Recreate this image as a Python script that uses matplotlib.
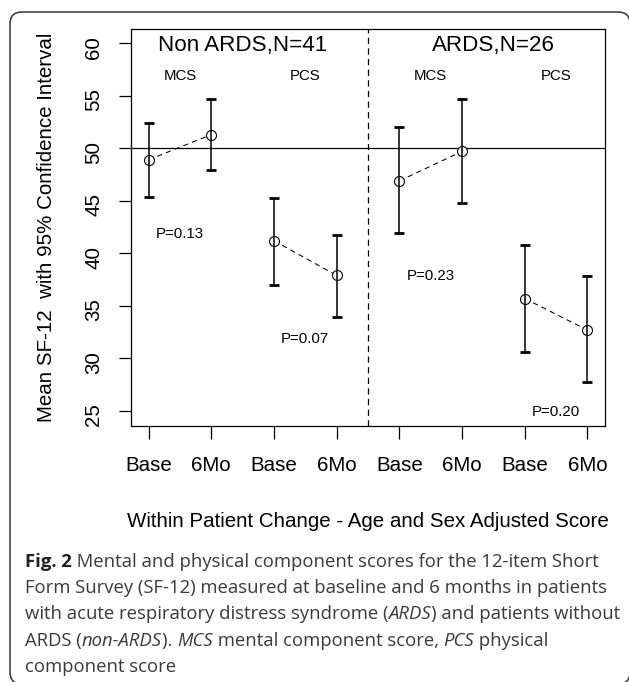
import matplotlib
matplotlib.use("Agg")
import matplotlib.pyplot as plt
from matplotlib.patches import FancyBboxPatch

plt.rcParams['font.family'] = ['Liberation Sans', 'DejaVu Sans']

W, H = 629, 682

# data
x_pos = [1, 2, 3, 4, 5, 6, 7, 8]
x_labels = ["Base", "6Mo", "Base", "6Mo", "Base", "6Mo", "Base", "6Mo"]
means = [48.9, 51.3, 41.2, 37.9, 46.9, 49.7, 35.7, 32.7]
lower = [45.4, 47.9, 37.0, 33.9, 41.9, 44.8, 30.6, 27.8]
upper = [52.4, 54.7, 45.3, 41.7, 52.0, 54.7, 40.8, 37.8]

groups = ["Non ARDS,N=41", "ARDS,N=26"]
group_x = [2.5, 6.5]
scores = ["MCS", "PCS", "MCS", "PCS"]
score_x = [1.5, 3.5, 5.5, 7.5]
p_values = ["P=0.13", "P=0.07", "P=0.23", "P=0.20"]
p_y = [42, 32, 38, 25]

caption = [
    [("Fig. 2", "bold"), (" Mental and physical component scores for the 12-item Short", "normal")],
    [("Form Survey (SF-12) measured at baseline and 6 months in patients", "normal")],
    [("with acute respiratory distress syndrome (", "normal"), ("ARDS", "italic"),
     (") and patients without", "normal")],
    [("ARDS (", "normal"), ("non-ARDS", "italic"), ("). ", "normal"), ("MCS", "italic"),
     (" mental component score, ", "normal"), ("PCS", "italic"), (" physical", "normal")],
    [("component score", "normal")],
]

fig = plt.figure(figsize=(W / 100, H / 100), dpi=100)
ax = fig.add_axes([131 / W, 1 - 425.7 / H, 474 / W, 396.7 / H])

ax.axhline(50, color='black', lw=0.9, zorder=1)
ax.axvline(4.5, color='black', lw=0.9, ls=(0, (5, 3.5)), zorder=1)

for i in range(0, 8, 2):
    ax.plot(x_pos[i:i + 2], means[i:i + 2], color='black', lw=0.75,
            ls=(0, (5, 4)), zorder=2)
ax.plot(x_pos, means, 'o', ms=7.2, mfc='white', mec='black', mew=0.8, zorder=3)
yerr = [[m - lo for m, lo in zip(means, lower)], [u - m for m, u in zip(means, upper)]]
ax.errorbar(x_pos, means, yerr=yerr, fmt='none', ecolor='black', elinewidth=1.1,
            capsize=3.6, capthick=2, zorder=4)

ax.set_xlim(0.72, 8.28)
ax.set_ylim(23.6, 61.35)
ax.set_xticks(x_pos, x_labels)
ax.set_yticks(range(25, 61, 5))
ax.tick_params(length=9, width=0.9, labelsize=14.8, color='black')
ax.tick_params(axis='x', pad=12.6)
ax.tick_params(axis='y', labelrotation=90, pad=11)
for s in ax.spines.values():
    s.set_linewidth(0.9)


def centered_text(x, y, s, size):
    # centre the capital letters on (x, y), as R does
    ax.annotate(s, (x, y), xytext=(0, -0.36 * size), textcoords='offset points',
                ha='center', va='baseline', fontsize=size)


for gx, g in zip(group_x, groups):
    centered_text(gx, 60, g, 16.1)
for sx, s in zip(score_x, scores):
    centered_text(sx, 57, s, 10.8)
for sx, py, p in zip(score_x, p_y, p_values):
    centered_text(sx, py, p, 10.8)

px = fig.dpi_scale_trans
fig.text(51.7 / 100, (H - 227.4) / 100, "Mean SF-12  with 95% Confidence Interval",
         transform=px, rotation=90, rotation_mode='anchor', ha='center',
         va='baseline', fontsize=14.8)
fig.text(368 / 100, (H - 526.7) / 100,
         "Within Patient Change - Age and Sex Adjusted Score",
         transform=px, ha='center', va='baseline', fontsize=14.8)

# frame round the whole figure (cropped at right and bottom)
box = FancyBboxPatch((10 / 100, (H - 684) / 100), 620 / 100, 672 / 100,
                     boxstyle="round,pad=0,rounding_size=0.12", transform=px,
                     fill=False, lw=1.1, ec='#333333', clip_on=False)
fig.add_artist(box)

# caption, drawn run by run so bold / italic parts sit inline
renderer = fig.canvas.get_renderer()
cap_font = dict(family=['Open Sans', 'DejaVu Sans'], fontsize=13.3, color='#3a3a3a')


def text_width(s, **kw):
    t = fig.text(0, 0, "|" + s + "|", transform=px, **kw)
    t2 = fig.text(0, 0, "||", transform=px, **kw)
    w = t.get_window_extent(renderer).width - t2.get_window_extent(renderer).width
    t.remove()
    t2.remove()
    return w


for k, line in enumerate(caption):
    x = 25
    base = 566.7 + 26.3 * k
    for s, style in line:
        kw = dict(cap_font)
        if style == "bold":
            kw['fontweight'] = 'bold'
            kw['color'] = '#222222'
        elif style == "italic":
            kw['fontstyle'] = 'italic'
        fig.text(x / 100, (H - base) / 100, s, transform=px, va='baseline', **kw)
        x += text_width(s, **kw)

fig.savefig("out.png", dpi=100)
